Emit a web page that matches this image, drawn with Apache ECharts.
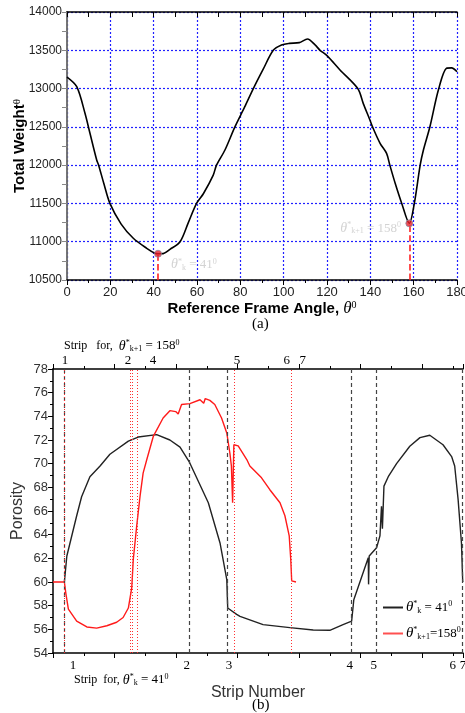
<!DOCTYPE html>
<html><head><meta charset="utf-8">
<script src="https://cdn.jsdelivr.net/npm/echarts@6/dist/echarts.min.js"></script>
<style>html,body{margin:0;padding:0;background:#fff}#c{width:465px;height:713px}</style>
</head><body><div id="c"></div>
<script>
// ---------- Chart (a) data ----------
const angleDeg = [0,4.5,8.3,10.6,13.7,14.6,17,19.8,25,30.6,36.8,40.6,42,44.4,47.5,52.2,56,59.8,63,67.5,69,72.9,77.5,82,86,90.5,95.2,99,102.6,107.2,111,114.5,116.8,120,126,134.2,136.8,139.8,141,144.5,147.5,149,151.5,154.5,158,160.3,163,164.5,167.5,171.4,175.2,177.5,180];
const totalWeight = [13150,13025,12677,12416,12067,12000,11760,11500,11230,11045,10914,10849,10843,10845,10900,11000,11250,11500,11630,11870,12000,12198,12500,12760,13000,13250,13500,13569,13590,13600,13647,13570,13500,13430,13243,13000,12800,12590,12500,12285,12154,12000,11760,11500,11240,11500,12000,12198,12502,12981,13265,13270,13220];
const optimumAngles = [42, 158];
const optimumWeights = [10843, 11240];

// ---------- Chart (b) data ----------
const stripPos41 = [0.37,0.45,0.77,0.93,1.20,1.53,1.85,2.45,2.77,3.37,3.80,4.13,4.44,5.05,5.43,5.65,5.68,5.97,6.08,6.83,7.70,8.46,9.00,9.43,9.71,9.78,10.25,10.26,10.28,10.52,10.63,10.68,10.71,10.76,10.90,11.17,11.60,11.93,12.25,12.68,12.96,13.06,13.17,13.28,13.32,13.33];
const porosity41 = [60.0,62.2,65.6,67.2,68.9,69.8,70.8,71.9,72.25,72.45,72.0,71.4,70.1,66.7,63.3,60.2,57.8,57.27,57.1,56.4,56.14,55.94,55.92,56.4,56.7,58.5,62.05,59.8,62.2,62.9,63.9,66.4,64.5,68.1,68.9,70.0,71.47,72.2,72.4,71.6,70.6,69.8,67.0,63.3,60.1,60.0];
const stripPos158 = [0,0.37,0.42,0.50,0.77,1.10,1.42,1.75,2.07,2.28,2.45,2.56,2.61,2.72,2.83,2.93,3.05,3.26,3.58,3.80,3.99,4.07,4.18,4.45,4.78,4.90,4.95,5.10,5.26,5.48,5.65,5.75,5.80,5.84,5.88,5.92,6.02,6.30,6.40,6.78,7.05,7.38,7.54,7.68,7.73,7.76,7.90];
const porosity158 = [60,60,59,57.7,56.7,56.2,56.1,56.3,56.6,57.0,57.8,59.5,61.9,64.7,67.25,69.2,70.35,72.3,73.86,74.48,74.4,74.2,75.0,75.07,75.4,75.1,75.5,75.35,75.0,73.86,72.6,70.9,69.8,66.7,71.6,71.6,71.5,70.35,69.8,68.8,67.8,66.7,65.6,63.9,61.9,60.1,60.0];
const boundaries41 = [0.37, 4.42, 5.68, 9.71, 10.50, 13.30];
const boundaries158 = [0.37, 2.50, 2.59, 2.75, 5.88, 7.76];
const stripLabels41 = ['1','2','3','4','5','6','7'];
const stripLabelPos41 = [0.65, 4.35, 5.72, 9.65, 10.43, 13.0, 13.33];
const stripLabels158 = ['1','2','4','5','6','7'];
const stripLabelPos158 = [0.39, 2.44, 3.25, 5.98, 7.6, 8.12];

const SERIF = 'Liberation Serif';
const SANS = 'Liberation Sans';
const thetaRich = {
  th: {fontFamily: SERIF, fontStyle: 'italic', fontSize: 15},
  sp: {fontFamily: SERIF, fontSize: 8, verticalAlign: 'top'},
  sb: {fontFamily: SERIF, fontSize: 8, verticalAlign: 'bottom'},
  n: {fontFamily: SERIF, fontSize: 13}
};
function lab(pos, labels) {
  return function (v) {
    for (let i = 0; i < pos.length; i++) if (Math.abs(pos[i] - v) < 1e-6) return labels[i];
    return '';
  };
}
const blackAxis = {lineStyle: {color: '#000', width: 1.5}};
const tk = {lineStyle: {color: '#000', width: 1}};

const chart = echarts.init(document.getElementById('c'));
chart.setOption({
  animation: false,
  backgroundColor: '#fff',
  grid: [
    {left: 67, top: 12, width: 390, height: 268, outerBoundsMode: 'none', containLabel: false},
    {left: 53, top: 369, width: 410, height: 284, outerBoundsMode: 'none', containLabel: false}
  ],
  xAxis: [
    {gridIndex: 0, type: 'value', min: 0, max: 180, interval: 20, position: 'bottom',
     axisLine: blackAxis, axisTick: {length: 5, lineStyle: tk.lineStyle},
     minorTick: {show: true, splitNumber: 2, length: 3, lineStyle: tk.lineStyle},
     axisLabel: {color: '#222', fontSize: 13, fontFamily: SANS, margin: 6},
     splitLine: {show: true, lineStyle: {color: '#2020ff', type: [2, 2], width: 1.2}},
     name: '{b|Reference Frame Angle, }{th|θ}{sp|0}', nameLocation: 'middle', nameGap: 20,
     nameTextStyle: {rich: {b: {fontFamily: SANS, fontWeight: 'bold', fontSize: 15, color: '#000'},
       th: {fontFamily: SERIF, fontStyle: 'italic', fontSize: 17, color: '#000'},
       sp: {fontFamily: SERIF, fontSize: 10, verticalAlign: 'top', color: '#000'}}}},
    {gridIndex: 0, type: 'value', min: 0, max: 180, interval: 20, position: 'top',
     axisLine: blackAxis, axisTick: {inside: true, length: 5, lineStyle: tk.lineStyle},
     minorTick: {show: true, splitNumber: 2, length: 5, lineStyle: tk.lineStyle},
     axisLabel: {show: false}, splitLine: {show: false}},
    {gridIndex: 1, type: 'value', min: 0, max: 13.33, interval: 2, position: 'bottom',
     axisLine: blackAxis, axisTick: {length: 5, lineStyle: tk.lineStyle},
     minorTick: {show: true, splitNumber: 2, length: 3, lineStyle: tk.lineStyle},
     axisLabel: {customValues: stripLabelPos41, formatter: lab(stripLabelPos41, stripLabels41),
       color: '#000', fontSize: 13, fontFamily: SERIF, margin: 6, showMaxLabel: true},
     splitLine: {show: false},
     name: 'Strip Number', nameLocation: 'middle', nameGap: 32, nameMoveOverlap: false,
     nameTextStyle: {fontFamily: SANS, fontSize: 16, color: '#333'}},
    {gridIndex: 1, type: 'value', min: 0, max: 13.33, interval: 2, position: 'top',
     axisLine: blackAxis, axisTick: {length: 5, lineStyle: tk.lineStyle},
     minorTick: {show: true, splitNumber: 2, length: 3, lineStyle: tk.lineStyle},
     axisLabel: {customValues: stripLabelPos158, formatter: lab(stripLabelPos158, stripLabels158),
       color: '#000', fontSize: 13, fontFamily: SERIF, margin: 2},
     splitLine: {show: false}}
  ],
  yAxis: [
    {gridIndex: 0, type: 'value', min: 10500, max: 14000, interval: 500, position: 'left',
     axisLine: {show: true, lineStyle: {color: '#000', width: 1.5}}, axisTick: {show: true, length: 5, lineStyle: tk.lineStyle},
     minorTick: {show: true, splitNumber: 2, length: 3, lineStyle: tk.lineStyle},
     axisLabel: {color: '#222', fontSize: 12, fontFamily: SANS, margin: 5, formatter: v => String(v)},
     splitLine: {show: true, lineStyle: {color: '#2020ff', type: [2, 2], width: 1.2}},
     name: '{b|Total Weight}{sp|θ}', nameLocation: 'middle', nameGap: 40, nameMoveOverlap: false,
     nameTextStyle: {rich: {b: {fontFamily: SANS, fontWeight: 'bold', fontSize: 15, color: '#000'},
       sp: {fontFamily: SERIF, fontSize: 11, verticalAlign: 'top', color: '#000'}}}},
    {gridIndex: 0, type: 'value', min: 10500, max: 14000, interval: 500, position: 'right',
     axisLine: {show: true, lineStyle: {color: '#888', width: 1.5}}, axisTick: {show: true, inside: true, length: 5, lineStyle: {color: '#888'}},
     minorTick: {show: true, splitNumber: 2, length: 5, lineStyle: {color: '#888'}},
     axisLabel: {show: false}, splitLine: {show: false}},
    {gridIndex: 1, type: 'value', min: 54, max: 78, interval: 2, position: 'left',
     axisLine: {show: true, lineStyle: {color: '#000', width: 1.5}}, axisTick: {show: true, length: 5, lineStyle: tk.lineStyle},
     minorTick: {show: true, splitNumber: 2, length: 3, lineStyle: tk.lineStyle},
     axisLabel: {color: '#333', fontSize: 13, fontFamily: SANS, margin: 5},
     splitLine: {show: false},
     name: 'Porosity', nameLocation: 'middle', nameGap: 27, nameMoveOverlap: false,
     nameTextStyle: {fontFamily: SANS, fontSize: 16, color: '#333'}}
  ],
  legend: {
    left: 383, top: 600, orient: 'vertical', itemWidth: 20, itemHeight: 2, itemGap: 11,
    icon: 'rect', padding: 0,
    data: ['k41', 'k158'],
    formatter: function (n) {
      return n === 'k41' ? '{th|θ}{sp|*}{sb|k}{n| = 41}{sp|0}' : '{th|θ}{sp|*}{sb|k+1}{n|=158}{sp|0}';
    },
    textStyle: {color: '#000', rich: thetaRich, padding: [0, 0, 0, -2]}
  },
  series: [
    {type: 'line', xAxisIndex: 0, yAxisIndex: 0, data: angleDeg.map((a, i) => [a, totalWeight[i]]),
     showSymbol: false, smooth: 0.3, lineStyle: {color: '#000', width: 1.6}, z: 3},
    {type: 'scatter', xAxisIndex: 0, yAxisIndex: 0, data: optimumAngles.map((a, i) => [a, optimumWeights[i]]),
     symbolSize: 7, itemStyle: {color: '#e8202a', borderColor: '#8a8aa0', borderWidth: 1}, z: 5,
     label: {show: true, color: '#c8c8c8',
       formatter: function (p) {
         return p.dataIndex === 0 ? '{th|θ}{sp|*}{sb|k}{n| = 41}{sp|0}' : '{th|θ}{sp|*}{sb|k+1}{n| = 158}{sp|0}';
       },
       position: 'right',
       rich: {th: {fontFamily: SERIF, fontStyle: 'italic', fontSize: 14, color: '#c8c8c8'},
         sp: {fontFamily: SERIF, fontSize: 8, verticalAlign: 'top', color: '#c8c8c8'},
         sb: {fontFamily: SERIF, fontSize: 8, verticalAlign: 'bottom', color: '#c8c8c8'},
         n: {fontFamily: SERIF, fontSize: 13, color: '#c8c8c8'}}},
     labelLayout: function (p) {
       return p.dataIndex === 0 ? {dx: 4, dy: 11} : {dx: -78, dy: 5};
     },
     markLine: {silent: true, symbol: 'none', label: {show: false},
       lineStyle: {color: '#ff2020', type: 'dashed', width: 1.6},
       data: optimumAngles.map((a, i) => [{coord: [a, 10500]}, {coord: [a, optimumWeights[i]]}])}},
    {name: 'k41', type: 'line', xAxisIndex: 2, yAxisIndex: 2, data: stripPos41.map((x, i) => [x, porosity41[i]]),
     showSymbol: false, lineStyle: {color: '#222', width: 1.4}, itemStyle: {color: '#222'}, z: 3,
     markLine: {silent: true, symbol: 'none', label: {show: false},
       lineStyle: {color: '#444', type: [4, 3], width: 1.2},
       data: boundaries41.map(b => ({xAxis: b}))}},
    {name: 'k158', type: 'line', xAxisIndex: 2, yAxisIndex: 2, data: stripPos158.map((x, i) => [x, porosity158[i]]),
     showSymbol: false, lineStyle: {color: '#ff1a1a', width: 1.4}, itemStyle: {color: '#ff5050'}, z: 4,
     markLine: {silent: true, symbol: 'none', label: {show: false},
       lineStyle: {color: '#ff3030', type: [1, 2], width: 1},
       data: boundaries158.map(b => ({xAxis: b}))}}
  ],
  graphic: [
    {type: 'text', left: 252, top: 317, style: {text: '(a)', font: '15px "Liberation Serif"', fill: '#000'}},
    {type: 'text', left: 252, top: 698, style: {text: '(b)', font: '15px "Liberation Serif"', fill: '#000'}},
    {type: 'text', left: 64, top: 339, style: {text: '{s|Strip   for,  }{th|θ}{sp|*}{sb|k+1}{n| = 158}{sp|0}', fill: '#000',
      rich: {s: {fontFamily: SERIF, fontSize: 12}, th: {fontFamily: SERIF, fontStyle: 'italic', fontSize: 14},
        sp: {fontFamily: SERIF, fontSize: 8, verticalAlign: 'top'}, sb: {fontFamily: SERIF, fontSize: 8, verticalAlign: 'bottom'},
        n: {fontFamily: SERIF, fontSize: 13}}}},
    {type: 'text', left: 74, top: 673, style: {text: '{s|Strip  for, }{th|θ}{sp|*}{sb|k}{n| = 41}{sp|0}', fill: '#000',
      rich: {s: {fontFamily: SERIF, fontSize: 12}, th: {fontFamily: SERIF, fontStyle: 'italic', fontSize: 14},
        sp: {fontFamily: SERIF, fontSize: 8, verticalAlign: 'top'}, sb: {fontFamily: SERIF, fontSize: 8, verticalAlign: 'bottom'},
        n: {fontFamily: SERIF, fontSize: 13}}}}
  ]
});
</script></body></html>
